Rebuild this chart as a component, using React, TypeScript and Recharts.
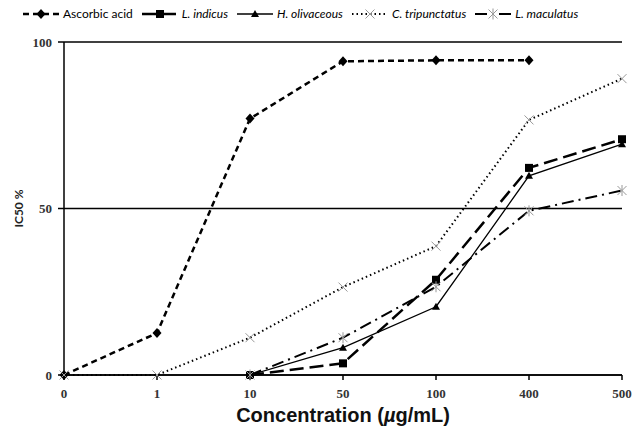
import { CartesianGrid, Label, Line, LineChart, XAxis, YAxis } from "recharts";

const categories = ["0", "1", "10", "50", "100", "400", "500"];
const ascorbic = [0, 12.6, 77, 94.2, 94.5, 94.5, null];
const indicus = [null, null, 0, 3.5, 28.6, 62.2, 70.8];
const olivaceous = [null, null, 0, 8.2, 20.5, 59.8, 69.3];
const tripunctatus = [0, 0, 11.2, 26.4, 38.7, 76.6, 89];
const maculatus = [null, null, 0, 11.2, 26.5, 49.3, 55.4];
const yTicks = [0, 50, 100];

const data = categories.map((c, i) => ({
  conc: c,
  ascorbic: ascorbic[i],
  indicus: indicus[i],
  olivaceous: olivaceous[i],
  tripunctatus: tripunctatus[i],
  maculatus: maculatus[i],
}));

type Shape = "diamond" | "square" | "triangle" | "x" | "star";

const Marker = ({ shape, cx, cy }: { shape: Shape; cx: number; cy: number }) => {
  if (shape === "diamond")
    return <polygon points={`${cx},${cy - 5} ${cx + 4.5},${cy} ${cx},${cy + 5} ${cx - 4.5},${cy}`} fill="#000" />;
  if (shape === "square") return <rect x={cx - 4} y={cy - 4} width={8} height={8} fill="#000" />;
  if (shape === "triangle")
    return <polygon points={`${cx},${cy - 4} ${cx + 4},${cy + 3} ${cx - 4},${cy + 3}`} fill="#000" />;
  const d = 4.5;
  return (
    <g stroke="#999" strokeWidth={1}>
      <line x1={cx - d} y1={cy - d} x2={cx + d} y2={cy + d} />
      <line x1={cx - d} y1={cy + d} x2={cx + d} y2={cy - d} />
      {shape === "star" && <line x1={cx} y1={cy - d - 1} x2={cx} y2={cy + d + 1} />}
    </g>
  );
};

const series = [
  { key: "ascorbic", name: "Ascorbic acid", italic: false, dash: "6 4", width: 2.5, shape: "diamond" as Shape },
  { key: "indicus", name: "L. indicus", italic: true, dash: "14 6", width: 2.5, shape: "square" as Shape },
  { key: "olivaceous", name: "H. olivaceous", italic: true, dash: undefined, width: 1.3, shape: "triangle" as Shape },
  { key: "tripunctatus", name: "C. tripunctatus", italic: true, dash: "1.5 3", width: 2, shape: "x" as Shape },
  { key: "maculatus", name: "L. maculatus", italic: true, dash: "12 5 2 5", width: 2, shape: "star" as Shape },
];

const dotFor = (shape: Shape, key: string) => (props: any) => {
  const { cx, cy, index } = props;
  if (cx == null || cy == null) return <g key={`${key}-${index}`} />;
  return (
    <g key={`${key}-${index}`}>
      <Marker shape={shape} cx={cx} cy={cy} />
    </g>
  );
};

const LegendRow = () => (
  <div
    style={{
      position: "absolute",
      top: 6,
      left: 22,
      display: "flex",
      alignItems: "center",
      gap: 8,
      fontFamily: "Lato, sans-serif",
      fontSize: 12,
      color: "#000",
    }}
  >
    {series.map((s) => (
      <div key={s.key} style={{ display: "flex", alignItems: "center", gap: 3 }}>
        <svg width={38} height={14}>
          <line x1={1} y1={7} x2={37} y2={7} stroke="#000" strokeWidth={s.width} strokeDasharray={s.dash} />
          <Marker shape={s.shape} cx={19} cy={7} />
        </svg>
        <span style={{ fontStyle: s.italic ? "italic" : "normal" }}>{s.name}</span>
      </div>
    ))}
  </div>
);

const tickStyle = { fontFamily: "'Liberation Serif', serif", fontSize: 13, fontWeight: 700, fill: "#333" };

export default function App() {
  return (
    <div style={{ position: "absolute", left: 0, top: 0, width: 640, height: 436, background: "#fff" }}>
      <LegendRow />
      <LineChart width={640} height={436} data={data} margin={{ top: 42, right: 18, bottom: 0, left: 0 }}>
        <CartesianGrid vertical={false} stroke="#000" strokeWidth={1.5} />
        <XAxis
          dataKey="conc"
          height={61}
          stroke="#000"
          strokeWidth={1.5}
          tickSize={5}
          tickMargin={9}
          tick={tickStyle}
        >
          <Label
            content={({ viewBox }: any) => (
              <text
                x={viewBox.x + viewBox.width / 2}
                y={viewBox.y + 47}
                textAnchor="middle"
                fontFamily="'Liberation Sans', Arial, sans-serif"
                fontSize={20}
                fontWeight={700}
                fill="#111"
              >
                Concentration (<tspan fontStyle="italic">µ</tspan>g/mL)
              </text>
            )}
          />
        </XAxis>
        <YAxis
          width={64}
          domain={[0, 100]}
          ticks={yTicks}
          stroke="#000"
          strokeWidth={1.5}
          tickSize={6}
          tickMargin={6}
          tick={tickStyle}
        >
          <Label
            content={({ viewBox }: any) => (
              <text
                x={20}
                y={viewBox.y + viewBox.height / 2}
                textAnchor="middle"
                dominantBaseline="middle"
                transform={`rotate(-90, 20, ${viewBox.y + viewBox.height / 2})`}
                fontFamily="Lato, sans-serif"
                fontSize={12}
                fontWeight={700}
                fill="#222"
              >
                IC50 %
              </text>
            )}
          />
        </YAxis>
        {series.map((s) => (
          <Line
            key={s.key}
            type="linear"
            dataKey={s.key}
            name={s.name}
            stroke="#000"
            strokeWidth={s.width}
            strokeDasharray={s.dash}
            dot={dotFor(s.shape, s.key)}
            activeDot={false}
            isAnimationActive={false}
          />
        ))}
      </LineChart>
    </div>
  );
}
